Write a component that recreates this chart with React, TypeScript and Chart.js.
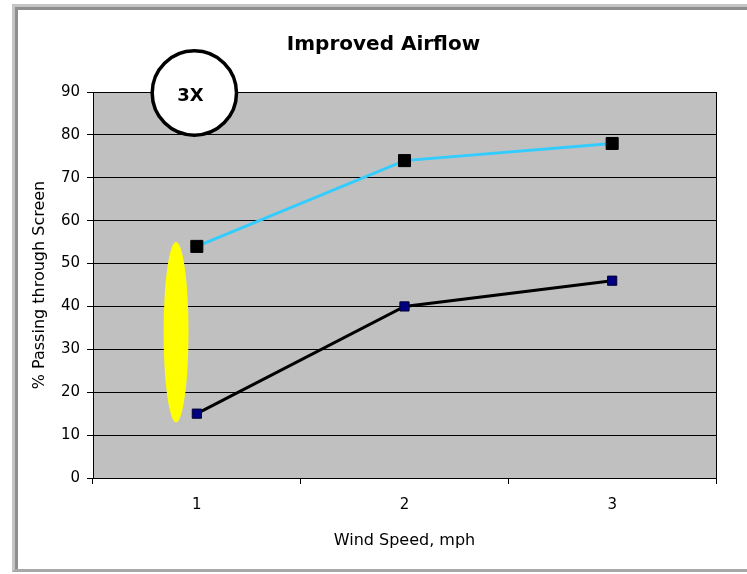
import React, { useEffect, useRef } from "react";
import { Chart, registerables } from "chart.js";

Chart.register(...registerables);

// ---- data ----
const categories = ["1", "2", "3"];
const upperSeries = [54, 74, 78];
const lowerSeries = [15, 40, 46];
const yMin = 0;
const yMax = 90;
const yStep = 10;
const chartTitle = "Improved Airflow";
const xAxisTitle = "Wind Speed, mph";
const yAxisTitle = "% Passing through Screen";
const calloutText = "3X";

// annotation anchors (data units: category index offset, y value)
const ellipseIndex = -0.1;
const ellipseYFrom = 13;
const ellipseYTo = 55;
const circleIndex = -0.012;
const circleY = 90;

const FONT = "'DejaVu Sans', sans-serif";

const plotBackground = {
  id: "plotBackground",
  beforeDraw(chart: any) {
    const { ctx, chartArea: a } = chart;
    ctx.save();
    ctx.fillStyle = "#c0c0c0";
    ctx.fillRect(a.left, a.top, a.right - a.left, a.bottom - a.top);
    ctx.restore();
  },
};

const annotations = {
  id: "annotations",
  beforeDatasetsDraw(chart: any) {
    const { ctx } = chart;
    const xs = chart.scales.x;
    const ys = chart.scales.y;
    const catW = xs.getPixelForValue(1) - xs.getPixelForValue(0);
    const cx = xs.getPixelForValue(0) + ellipseIndex * catW;
    const top = ys.getPixelForValue(ellipseYTo);
    const bottom = ys.getPixelForValue(ellipseYFrom);
    ctx.save();
    ctx.beginPath();
    ctx.ellipse(cx, (top + bottom) / 2, catW * 0.06, (bottom - top) / 2, 0, 0, Math.PI * 2);
    ctx.fillStyle = "#ffff00";
    ctx.fill();
    ctx.restore();
  },
  afterDraw(chart: any) {
    const { ctx } = chart;
    const xs = chart.scales.x;
    const ys = chart.scales.y;
    const catW = xs.getPixelForValue(1) - xs.getPixelForValue(0);
    const cx = xs.getPixelForValue(0) + circleIndex * catW;
    const cy = ys.getPixelForValue(circleY);
    const r = catW * 0.203;
    ctx.save();
    ctx.beginPath();
    ctx.arc(cx, cy + 1, r, 0, Math.PI * 2);
    ctx.fillStyle = "#ffffff";
    ctx.fill();
    ctx.lineWidth = 3.5;
    ctx.strokeStyle = "#000000";
    ctx.stroke();
    ctx.fillStyle = "#000000";
    ctx.font = `bold 18px ${FONT}`;
    ctx.textAlign = "center";
    ctx.textBaseline = "middle";
    ctx.fillText(calloutText, cx - 4, cy + 4);
    ctx.restore();
  },
};

export default function App() {
  const canvasRef = useRef<HTMLCanvasElement | null>(null);

  useEffect(() => {
    const canvas = canvasRef.current;
    if (!canvas) return;
    const chart = new Chart(canvas, {
      type: "line",
      data: {
        labels: categories,
        datasets: [
          {
            label: "Upper",
            data: upperSeries,
            borderColor: "#33ccff",
            borderWidth: 3,
            pointStyle: "rect",
            pointRadius: 8.5,
            pointBackgroundColor: "#000000",
            pointBorderColor: "#000000",
            pointBorderWidth: 1,
            tension: 0,
          },
          {
            label: "Lower",
            data: lowerSeries,
            borderColor: "#000000",
            borderWidth: 3,
            pointStyle: "rect",
            pointRadius: 6.5,
            pointBackgroundColor: "#000080",
            pointBorderColor: "#000033",
            pointBorderWidth: 1,
            tension: 0,
          },
        ],
      },
      options: {
        responsive: false,
        animation: false,
        devicePixelRatio: 1,
        layout: { padding: { left: 20, right: 0, top: 8, bottom: 0 } },
        plugins: {
          legend: { display: false },
          tooltip: { enabled: false },
          title: {
            display: true,
            text: chartTitle,
            color: "#000",
            font: { family: FONT, size: 20, weight: "bold", lineHeight: 1.2 },
            padding: { top: 25, bottom: 35 },
          },
        },
        scales: {
          x: {
            type: "category",
            offset: true,
            grid: {
              offset: true,
              drawOnChartArea: false,
              drawTicks: true,
              tickLength: 6,
              color: "#000",
            },
            border: { display: true, color: "#000", width: 1 },
            ticks: { color: "#000", font: { family: FONT, size: 15 }, padding: 12 },
            title: {
              display: true,
              text: xAxisTitle,
              color: "#000",
              font: { family: FONT, size: 16, lineHeight: 1.2 },
              padding: { top: 0, bottom: 24 },
            },
            afterFit(s: any) {
              s.height = 96;
            },
          },
          y: {
            min: yMin,
            max: yMax,
            ticks: { stepSize: yStep, color: "#000", font: { family: FONT, size: 15 }, padding: 7 },
            grid: { color: "#000", lineWidth: 1, drawTicks: true, tickLength: 6 },
            border: { display: true, color: "#000", width: 1 },
            title: {
              display: true,
              text: yAxisTitle,
              color: "#000",
              font: { family: FONT, size: 16, lineHeight: 1.2 },
              padding: { top: 10.4, bottom: 0 },
            },
            afterFit(s: any) {
              s.width = 73;
            },
          },
          yRight: {
            position: "right",
            display: true,
            grid: { display: false, drawTicks: false },
            ticks: { display: false },
            border: { display: true, color: "#000", width: 1 },
            afterFit(s: any) {
              s.width = 31;
            },
          },
        },
      },
      plugins: [plotBackground, annotations],
    } as any);
    return () => chart.destroy();
  }, []);

  return (
    <div style={{ position: "fixed", left: 0, top: 0, width: 747, height: 574, background: "#fff", overflow: "hidden" }}>
      <div
        style={{
          position: "absolute",
          left: 12,
          top: 4,
          width: 800,
          height: 562,
          borderTop: "3px solid #c4c4c4",
          borderLeft: "3px solid #c4c4c4",
          borderBottom: "3px solid #a8a8a8",
          boxSizing: "content-box",
        }}
      >
        <div
          style={{
            position: "absolute",
            left: 0,
            top: 0,
            right: 0,
            bottom: 0,
            borderTop: "3px solid #8e8e8e",
            borderLeft: "3px solid #8e8e8e",
          }}
        />
      </div>
      <canvas ref={canvasRef} width={747} height={574} style={{ position: "absolute", left: 0, top: 0, width: 747, height: 574 }} />
    </div>
  );
}
